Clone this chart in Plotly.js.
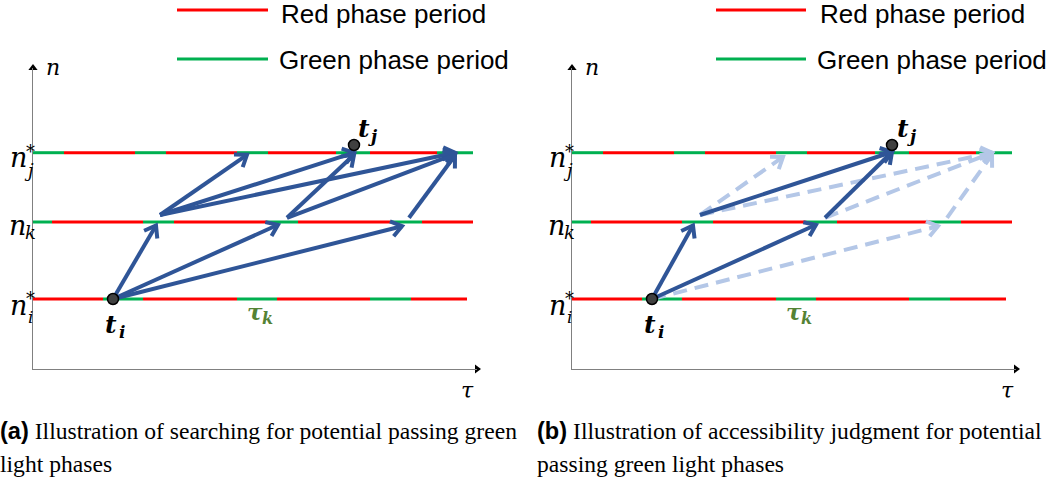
<!DOCTYPE html>
<html><head><meta charset="utf-8">
<script src="https://cdn.plot.ly/plotly-3.0.1.min.js"></script>
<style>html,body{margin:0;padding:0;background:#fff}</style>
</head><body><div id="chart" style="width:1055px;height:482px"></div>
<script>
// ---------- DATA ----------
// n levels (y values): n_i*, n_k, n_j*
const levelValues = [1.0, 2.1, 3.09];
// green phase intervals on each level (tau units); red fills the rest
const greenBottom = [[7.0, 11.0], [20.4, 24.4], [33.7, 37.8]];
const greenMiddle = [[0, 1.9], [11.0, 14.1], [23.4, 26.5], [35.8, 38.9]];
const greenTop = [[0, 3.1], [10.2, 13.3], [20.4, 23.5], [30.3, 33.7], [40.4, 44.0]];
const lineEnds = [43.4, 44.0, 44.0];

// points t_i, t_j  [tau, n]
const tiPoint = [8.0, 1.0];
const tjPointA = [32.1, 3.2];
const tjPointB = [32.0, 3.2];

// panel (a) arrows
const arrA_x0 = [8.0, 8.0, 8.0, 12.7, 12.7, 12.7, 25.4, 25.4, 37.6];
const arrA_y0 = [1.0, 1.0, 1.0, 2.2, 2.2, 2.2, 2.16, 2.16, 2.16];
const arrA_x1 = [12.3, 24.5, 36.9, 21.4, 32.1, 42.2, 32.1, 42.2, 42.2];
const arrA_y1 = [2.05, 2.06, 2.04, 3.06, 3.09, 3.09, 3.06, 3.07, 3.05];

// panel (b) solid (accessible) arrows
const arrBs_x0 = [8.0, 8.0, 12.8, 25.3];
const arrBs_y0 = [1.0, 1.0, 2.2, 2.16];
const arrBs_x1 = [12.1, 24.4, 32.0, 32.0];
const arrBs_y1 = [2.05, 2.06, 3.1, 3.1];
// panel (b) dashed (inaccessible) arrows
const arrBd_x0 = [8.0, 12.8, 12.8, 25.3, 37.5];
const arrBd_y0 = [1.0, 2.2, 2.2, 2.16, 2.16];
const arrBd_x1 = [36.6, 21.1, 42.0, 42.0, 42.0];
const arrBd_y1 = [2.04, 3.03, 3.09, 3.09, 3.06];

const legendLabels = ['Red phase period', 'Green phase period'];
const captionA = ['(a)', 'Illustration of searching for potential passing green', 'light phases'];
const captionB = ['(b)', 'Illustration of accessibility judgment for potential', 'passing green light phases'];

// ---------- LAYOUT CONSTANTS ----------
const W = 1055, H = 482;
const TAU_MAX = 44.4, N_MAX = 4.3;
const AX0 = 33, AX1 = 477;      // panel a x pixel extent
const BX0 = 572, BX1 = 1016;    // panel b
const PANEL_SHIFT = BX0 - AX0;
const YTOP = 68, YBOT = 369;
const SX = (AX1 - AX0) / TAU_MAX;
const SY = (YBOT - YTOP) / N_MAX;
const RED = '#FF0000', GREEN = '#00B050', BLUE = '#2F5597', LIGHT = '#B4C7E7';

const traces = [];
const greens = [greenBottom, greenMiddle, greenTop];

function phaseTraces(xa, ya) {
  const rx = [], ry = [], gx = [], gy = [];
  greens.forEach((g, li) => {
    const y = levelValues[li];
    let cur = 0;
    g.forEach(([a, b]) => {
      if (a > cur) { rx.push(cur, a, null); ry.push(y, y, null); }
      gx.push(a, b, null); gy.push(y, y, null);
      cur = b;
    });
    if (cur < lineEnds[li]) { rx.push(cur, lineEnds[li], null); ry.push(y, y, null); }
  });
  traces.push({type: 'scatter', mode: 'lines', x: rx, y: ry, xaxis: xa, yaxis: ya,
    line: {color: RED, width: 3}, hoverinfo: 'skip'});
  traces.push({type: 'scatter', mode: 'lines', x: gx, y: gy, xaxis: xa, yaxis: ya,
    line: {color: GREEN, width: 3}, hoverinfo: 'skip'});
}

function addArrows(x0s, y0s, x1s, y1s, xa, ya, color, width, dash) {
  const sx = [], sy = [], hx = [], hy = [];
  for (let i = 0; i < x0s.length; i++) {
    const x0 = x0s[i], y0 = y0s[i], x1 = x1s[i], y1 = y1s[i];
    const dxp = (x1 - x0) * SX, dyp = (y1 - y0) * SY;
    const len = Math.hypot(dxp, dyp);
    const ux = dxp / len, uy = dyp / len;
    const L = 13, ang = 36 * Math.PI / 180;
    const arms = [ang, -ang].map(a => {
      const c = Math.cos(a), s = Math.sin(a);
      const bx = -(ux * c - uy * s), by = -(ux * s + uy * c);
      return [x1 + bx * L / SX, y1 + by * L / SY];
    });
    sx.push(x0, x1, null); sy.push(y0, y1, null);
    hx.push(arms[0][0], x1, arms[1][0], null); hy.push(arms[0][1], y1, arms[1][1], null);
  }
  traces.push({type: 'scatter', mode: 'lines', x: sx, y: sy, xaxis: xa, yaxis: ya,
    line: {color, width, dash}, hoverinfo: 'skip'});
  traces.push({type: 'scatter', mode: 'lines', x: hx, y: hy, xaxis: xa, yaxis: ya,
    line: {color, width}, hoverinfo: 'skip'});
}

function axisHeads(xa, ya) {
  traces.push({type: 'scatter', mode: 'markers', x: [0, TAU_MAX], y: [N_MAX, 0], xaxis: xa, yaxis: ya,
    cliponaxis: false, hoverinfo: 'skip',
    marker: {symbol: ['triangle-up', 'triangle-right'], size: 8, color: '#000'}});
}

function points(xa, ya, tj) {
  traces.push({type: 'scatter', mode: 'markers', x: [tiPoint[0], tj[0]], y: [tiPoint[1], tj[1]],
    xaxis: xa, yaxis: ya, cliponaxis: false, hoverinfo: 'skip',
    marker: {size: 11, color: '#404040', line: {color: '#000', width: 1.5}}});
}

// panel a
phaseTraces('x', 'y');
addArrows(arrA_x0, arrA_y0, arrA_x1, arrA_y1, 'x', 'y', BLUE, 4, 'solid');
axisHeads('x', 'y');
points('x', 'y', tjPointA);
// panel b
phaseTraces('x2', 'y2');
addArrows(arrBd_x0, arrBd_y0, arrBd_x1, arrBd_y1, 'x2', 'y2', LIGHT, 4, '14px,8px');
addArrows(arrBs_x0, arrBs_y0, arrBs_x1, arrBs_y1, 'x2', 'y2', BLUE, 4, 'solid');
axisHeads('x2', 'y2');
points('x2', 'y2', tjPointB);

// ---------- ANNOTATIONS ----------
const SERIF = 'DejaVu Serif, serif';
const TIMES = '"Liberation Serif", "Times New Roman", Times, serif';
const ARIAL = '"Liberation Sans", Arial, sans-serif';
const ann = [];
function pax(px) { return px / W; }
function pay(py) { return 1 - py / H; }
function lab(text, px, py, size, color, shift) {
  ann.push({text, x: pax(px + shift), y: pay(py), xref: 'paper', yref: 'paper',
    showarrow: false, xanchor: 'center', yanchor: 'middle',
    font: {family: SERIF, size, color: color || '#000'}});
}
[0, PANEL_SHIFT].forEach(s => {
  lab('<i>n</i>', 18, 158, 27, null, s);
  lab('<i>j</i>', 29, 170, 18, null, s);
  lab('*', 30, 151, 18, null, s);
  lab('<i>n</i>', 17, 225, 27, null, s);
  lab('<i>k</i>', 30, 232, 18, null, s);
  lab('<i>n</i>', 18, 305, 27, null, s);
  lab('<i>i</i>', 30.5, 317, 17, null, s);
  lab('*', 30, 298, 18, null, s);
  lab('<i>n</i>', 53, 68, 22, null, s);
  lab('<i>τ</i>', 468, 390, 22, null, s);
  lab('<b><i>t</i></b>', 111, 324, 25, null, s);
  lab('<b><i>i</i></b>', 122, 332, 17, null, s);
  lab('<b><i>t</i></b>', 364, 129, 25, null, s);
  lab('<b><i>j</i></b>', 373, 136, 17, null, s);
  lab('<b><i>τ</i></b>', 255, 311, 23, '#548235', s);
  lab('<b><i>k</i></b>', 267, 318, 16, '#548235', s);
});

const shapes = [];
[[177, 268, 279, 277], [716, 806, 818, 815]].forEach(([l0, l1, t0, t1]) => {
  shapes.push({type: 'line', xref: 'paper', yref: 'paper', x0: pax(l0), x1: pax(l1), y0: pay(10), y1: pay(10),
    line: {color: RED, width: 3}});
  shapes.push({type: 'line', xref: 'paper', yref: 'paper', x0: pax(l0), x1: pax(l1), y0: pay(59), y1: pay(59),
    line: {color: GREEN, width: 3}});
  ann.push({text: legendLabels[0], x: pax(t0), y: pay(14), xref: 'paper', yref: 'paper', showarrow: false,
    xanchor: 'left', yanchor: 'middle', font: {family: ARIAL, size: 26, color: '#000'}});
  ann.push({text: legendLabels[1], x: pax(t1), y: pay(60), xref: 'paper', yref: 'paper', showarrow: false,
    xanchor: 'left', yanchor: 'middle', font: {family: ARIAL, size: 26, color: '#000'}});
});

[[captionA, -2], [captionB, 535]].forEach(([cap, cx]) => {
  ann.push({text: '<span style="font-family:Liberation Sans,Arial,sans-serif"><b>' + cap[0] + '</b></span> ' + cap[1],
    x: pax(cx), y: pay(431), xref: 'paper', yref: 'paper', showarrow: false, xanchor: 'left', yanchor: 'middle',
    font: {family: TIMES, size: 23.6, color: '#000'}});
  ann.push({text: cap[2], x: pax(cx), y: pay(464), xref: 'paper', yref: 'paper', showarrow: false,
    xanchor: 'left', yanchor: 'middle',
    font: {family: TIMES, size: 23.6, color: '#000'}});
});

const axBase = {showgrid: false, zeroline: false, showticklabels: false, ticks: '',
  showline: true, linecolor: '#808080', linewidth: 1, fixedrange: true};
const layout = {
  width: W, height: H, margin: {l: 0, r: 0, t: 0, b: 0},
  paper_bgcolor: '#fff', plot_bgcolor: 'rgba(0,0,0,0)', showlegend: false,
  xaxis: Object.assign({}, axBase, {domain: [AX0 / W, AX1 / W], range: [0, TAU_MAX], anchor: 'y'}),
  yaxis: Object.assign({}, axBase, {domain: [1 - YBOT / H, 1 - YTOP / H], range: [0, N_MAX], anchor: 'x'}),
  xaxis2: Object.assign({}, axBase, {domain: [BX0 / W, BX1 / W], range: [0, TAU_MAX], anchor: 'y2'}),
  yaxis2: Object.assign({}, axBase, {domain: [1 - YBOT / H, 1 - YTOP / H], range: [0, N_MAX], anchor: 'x2'}),
  annotations: ann, shapes: shapes
};
Plotly.newPlot('chart', traces, layout, {displayModeBar: false, staticPlot: true});
</script></body></html>
